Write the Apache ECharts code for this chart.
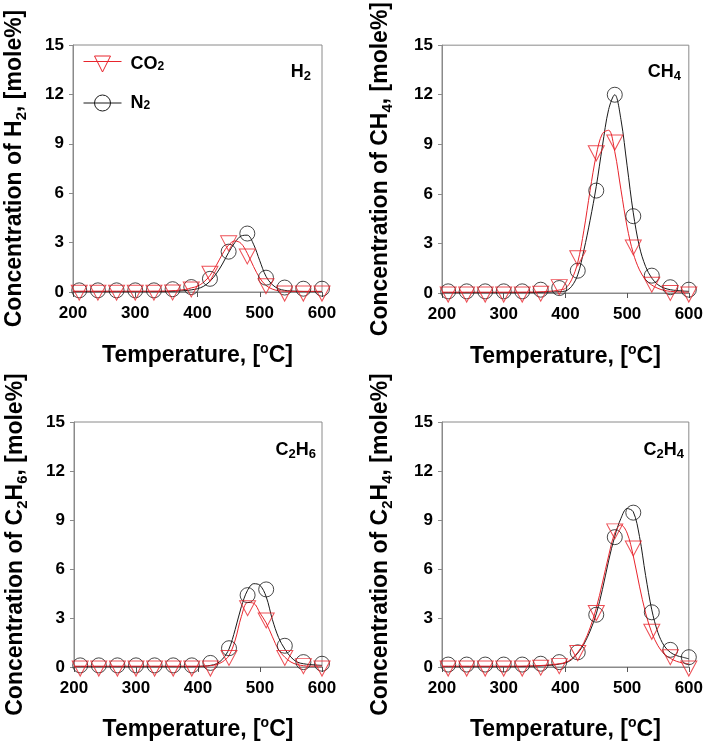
<!DOCTYPE html>
<html>
<head>
<meta charset="utf-8">
<script src="https://cdn.jsdelivr.net/npm/echarts@6/dist/echarts.min.js"></script>
<style>
html,body{margin:0;padding:0;background:#fff;}
#chart{width:706px;height:745px;}
</style>
</head>
<body>
<div id="chart"></div>
<script>
// ---------- data ----------
const temps = [210, 240, 270, 300, 330, 360, 390, 420, 450, 480, 510, 540, 570, 600];
const fitTemps = [200, 300, 350, 380, 390, 400, 410, 420, 430, 440, 450, 460, 470, 480, 490, 500, 510, 520, 530, 540, 550, 560, 570, 580, 590, 600];
const xTicks = [200, 300, 400, 500, 600];
const yTicks = [0, 3, 6, 9, 12, 15];

// H2
const h2_N2 = [0.1, 0.1, 0.1, 0.1, 0.1, 0.17, 0.3, 0.8, 2.45, 3.55, 0.87, 0.27, 0.2, 0.2];
const h2_CO2 = [0.1, 0.1, 0.1, 0.1, 0.1, 0.12, 0.3, 1.25, 3.1, 2.3, 0.5, 0.05, 0.05, 0.05];
const h2_N2_fit = [0.02, 0.02, 0.03, 0.08, 0.13, 0.2, 0.35, 0.65, 1.1, 1.7, 2.4, 3.0, 3.4, 3.45, 2.9, 1.9, 0.95, 0.45, 0.2, 0.1, 0.06, 0.04, 0.03, 0.02, 0.02, 0.02];
const h2_CO2_fit = [0.05, 0.05, 0.06, 0.15, 0.25, 0.35, 0.6, 1.0, 1.6, 2.3, 2.85, 3.1, 2.95, 2.35, 1.55, 0.85, 0.4, 0.18, 0.08, 0.05, 0.04, 0.04, 0.04, 0.04, 0.04, 0.04];

// CH4
const ch4_N2 = [0.1, 0.1, 0.1, 0.1, 0.1, 0.2, 0.3, 1.35, 6.2, 12.0, 4.65, 1.05, 0.35, 0.2];
const ch4_CO2 = [0.05, 0.05, 0.05, 0.05, 0.05, 0.1, 0.5, 2.25, 8.6, 9.25, 2.9, 0.65, 0.15, 0.05];
const ch4_N2_fit = [0.02, 0.02, 0.03, 0.06, 0.08, 0.12, 0.4, 1.1, 2.6, 4.4, 6.45, 8.9, 11.1, 12.0, 10.5, 7.7, 4.85, 2.8, 1.6, 0.9, 0.5, 0.3, 0.2, 0.15, 0.12, 0.1];
const ch4_CO2_fit = [0.05, 0.05, 0.06, 0.12, 0.18, 0.28, 0.8, 1.85, 3.8, 6.2, 8.35, 9.65, 9.85, 8.55, 6.25, 4.0, 2.4, 1.4, 0.8, 0.48, 0.28, 0.16, 0.1, 0.07, 0.05, 0.05];

// C2H6
const c2h6_N2 = [0.1, 0.1, 0.1, 0.1, 0.1, 0.1, 0.1, 0.25, 1.15, 4.4, 4.75, 1.3, 0.3, 0.2];
const c2h6_CO2 = [0.05, 0.05, 0.05, 0.05, 0.05, 0.05, 0.05, 0.05, 0.7, 3.75, 3.0, 0.7, 0.2, 0.05];
const c2h6_N2_fit = [0.02, 0.02, 0.02, 0.02, 0.02, 0.03, 0.05, 0.1, 0.2, 0.5, 1.1, 2.3, 3.7, 4.7, 5.1, 5.0, 4.3, 2.9, 1.8, 1.1, 0.6, 0.3, 0.2, 0.15, 0.12, 0.1];
const c2h6_CO2_fit = [0.05, 0.05, 0.05, 0.05, 0.05, 0.05, 0.05, 0.08, 0.15, 0.33, 0.7, 1.65, 3.1, 3.95, 3.9, 3.3, 2.7, 1.85, 1.05, 0.6, 0.3, 0.15, 0.08, 0.05, 0.05, 0.05];

// C2H4
const c2h4_N2 = [0.15, 0.15, 0.15, 0.15, 0.15, 0.2, 0.3, 0.9, 3.2, 7.95, 9.45, 3.35, 1.05, 0.6];
const c2h4_CO2 = [0.05, 0.05, 0.05, 0.05, 0.05, 0.1, 0.2, 1.0, 3.45, 8.45, 7.4, 2.3, 0.75, 0.05];
const c2h4_N2_fit = [0.02, 0.02, 0.05, 0.12, 0.18, 0.25, 0.45, 0.85, 1.4, 2.2, 3.25, 4.75, 6.5, 8.0, 9.1, 9.7, 9.5, 8.0, 5.6, 3.5, 2.1, 1.3, 0.9, 0.7, 0.6, 0.5];
const c2h4_CO2_fit = [0.05, 0.05, 0.07, 0.15, 0.2, 0.28, 0.5, 0.9, 1.5, 2.4, 3.6, 5.15, 6.8, 8.2, 8.7, 8.2, 6.8, 4.95, 3.3, 2.1, 1.3, 0.8, 0.53, 0.35, 0.25, 0.2];

// ---------- styles ----------
const RED = '#e8242c';
const BLACK = '#1a1a1a';
const FRAME = '#8a8a8a';
const FONT = '"Liberation Sans", Arial, sans-serif';
const TRI = 'path://M0,0L16,0L8,15Z';

const panels = [
  {gas: 'H{sub|2}', yname: 'Concentration of H{sub|2}, [mole%]', N2: h2_N2, CO2: h2_CO2, N2fit: h2_N2_fit, CO2fit: h2_CO2_fit,
   grid: {left: 73, top: 45, width: 249, height: 247}, label: {right: 395, top: 61}, ygap: 44, xgap: 50},
  {gas: 'CH{sub|4}', yname: 'Concentration of CH{sub|4}, [mole%]', N2: ch4_N2, CO2: ch4_CO2, N2fit: ch4_N2_fit, CO2fit: ch4_CO2_fit,
   grid: {left: 442, top: 45, width: 248, height: 248}, label: {right: 25, top: 61}, ygap: 47, xgap: 50},
  {gas: 'C{sub|2}H{sub|6}', yname: 'Concentration of C{sub|2}H{sub|6}, [mole%]', N2: c2h6_N2, CO2: c2h6_CO2, N2fit: c2h6_N2_fit, CO2fit: c2h6_CO2_fit,
   grid: {left: 74, top: 422, width: 248, height: 245}, label: {right: 390, top: 439}, ygap: 44, xgap: 49},
  {gas: 'C{sub|2}H{sub|4}', yname: 'Concentration of C{sub|2}H{sub|4}, [mole%]', N2: c2h4_N2, CO2: c2h4_CO2, N2fit: c2h4_N2_fit, CO2fit: c2h4_CO2_fit,
   grid: {left: 442, top: 422, width: 248, height: 246}, label: {right: 22, top: 439}, ygap: 47, xgap: 49}
];

const nameRich = {
  sub: {fontSize: 15, fontWeight: 'bold', fontFamily: FONT, color: '#000', lineHeight: 14, verticalAlign: 'bottom'},
  sup: {fontSize: 14, fontWeight: 'bold', fontFamily: FONT, color: '#000', lineHeight: 14, verticalAlign: 'top'}
};

const grids = [], xAxes = [], yAxes = [], series = [], titles = [];
const pairs = arr => arr.map((v, i) => [temps[i], v]);
const fitPairs = arr => arr.map((v, i) => [fitTemps[i], v]);

panels.forEach((p, k) => {
  grids.push(Object.assign({show: true, borderColor: FRAME, borderWidth: 1, backgroundColor: 'transparent'}, p.grid));
  xAxes.push({
    gridIndex: k, type: 'value', min: 200, max: 600, interval: 100,
    name: 'Temperature, [{sup|o}C]', nameLocation: 'middle', nameGap: p.xgap,
    nameTextStyle: {fontSize: 23, fontWeight: 'bold', fontFamily: FONT, color: '#000', lineHeight: 28, rich: nameRich},
    axisLine: {show: true, lineStyle: {color: FRAME, width: 1}},
    axisTick: {show: true, inside: false, length: 5, lineStyle: {color: '#555'}},
    axisLabel: {fontSize: 17, fontWeight: 'bold', fontFamily: FONT, color: '#000', margin: 13},
    splitLine: {show: false}
  });
  yAxes.push({
    gridIndex: k, type: 'value', min: 0, max: 15, interval: 3,
    name: p.yname, nameLocation: 'middle', nameGap: p.ygap, nameRotate: 90,
    nameTextStyle: {fontSize: 23, fontWeight: 'bold', fontFamily: FONT, color: '#000', lineHeight: 28, rich: nameRich},
    axisLine: {show: true, lineStyle: {color: FRAME, width: 1}},
    axisTick: {show: true, inside: false, length: 4, lineStyle: {color: FRAME}},
    axisLabel: {fontSize: 17, fontWeight: 'bold', fontFamily: FONT, color: '#000', margin: 9},
    splitLine: {show: false}
  });
  titles.push({
    text: p.gas, right: p.label.right, top: p.label.top, padding: 0,
    textStyle: {fontSize: 18, fontWeight: 'bold', fontFamily: FONT, color: '#000', lineHeight: 22,
      rich: {sub: {fontSize: 13, fontWeight: 'bold', fontFamily: FONT, color: '#000', lineHeight: 12, verticalAlign: 'bottom'}}}
  });
  // fitted curves
  series.push({
    name: 'N2', type: 'line', xAxisIndex: k, yAxisIndex: k, data: fitPairs(p.N2fit),
    smooth: 0.35, showSymbol: false, symbol: 'none', silent: true,
    lineStyle: {color: BLACK, width: 1}, itemStyle: {color: BLACK}, z: 2
  });
  series.push({
    name: 'CO2', type: 'line', xAxisIndex: k, yAxisIndex: k, data: fitPairs(p.CO2fit),
    smooth: 0.35, showSymbol: false, symbol: 'none', silent: true,
    lineStyle: {color: RED, width: 1}, itemStyle: {color: RED}, z: 3
  });
  // measured points
  series.push({
    name: 'N2', type: 'scatter', xAxisIndex: k, yAxisIndex: k, data: pairs(p.N2),
    symbol: 'circle', symbolSize: 15,
    itemStyle: {color: 'transparent', borderColor: BLACK, borderWidth: 1}, z: 4
  });
  series.push({
    name: 'CO2', type: 'scatter', xAxisIndex: k, yAxisIndex: k, data: pairs(p.CO2),
    symbol: TRI, symbolSize: [16, 15], symbolOffset: [0, '16%'],
    itemStyle: {color: 'transparent', borderColor: RED, borderWidth: 1}, z: 5
  });
});

const option = {
  backgroundColor: '#fff',
  animation: false,
  title: titles,
  grid: grids,
  xAxis: xAxes,
  yAxis: yAxes,
  legend: {
    orient: 'vertical', left: 83, top: 55, itemWidth: 38, itemHeight: 16, itemGap: 21,
    selectedMode: false, padding: 0,
    data: [
      {name: 'CO2', icon: 'path://M0,5.5L38,5.5M11,0L27,0L19,16Z',
       itemStyle: {color: 'transparent', borderColor: RED, borderWidth: 1}},
      {name: 'N2', icon: 'path://M0,8L38,8M27,8A8,8 0 1 1 11,8A8,8 0 1 1 27,8',
       itemStyle: {color: 'transparent', borderColor: BLACK, borderWidth: 1}}
    ],
    formatter: n => n === 'CO2' ? 'CO{sub|2}' : 'N{sub|2}',
    textStyle: {fontSize: 18, fontWeight: 'bold', fontFamily: FONT, color: '#000', padding: [0, 0, 0, 4],
      rich: {sub: {fontSize: 12, fontWeight: 'bold', fontFamily: FONT, color: '#000', lineHeight: 10, verticalAlign: 'bottom'}}}
  },
  series: series
};

const chart = echarts.init(document.getElementById('chart'), null, {renderer: 'canvas'});
chart.setOption(option);
</script>
</body>
</html>
